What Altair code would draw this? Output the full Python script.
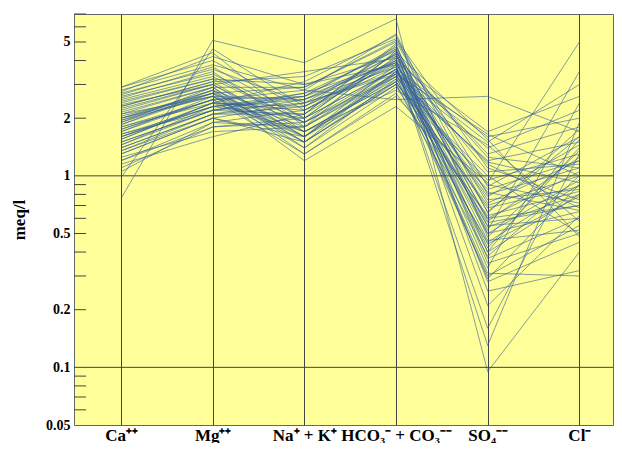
import altair as alt
import pandas as pd
import json

ions = ["Ca⁺⁺", "Mg⁺⁺", "Na⁺ + K⁺", "HCO₃⁻ + CO₃⁻⁻", "SO₄⁻⁻", "Cl⁻"]

ca = [1.8, 2.2, 1.5, 2.6, 1.3, 2.0, 1.7, 2.9, 1.1, 1.9, 2.4, 1.6, 2.1, 1.4, 2.7, 1.2, 1.85, 2.3, 1.55, 2.05,
      0.76, 1.65, 2.5, 1.35, 1.95, 2.8, 1.45, 2.15, 1.25, 1.75, 0.98, 2.35, 1.6, 2.0, 1.4, 2.55, 1.7, 1.15, 2.25, 1.9,
      1.5, 2.65, 1.3, 2.1, 1.8, 1.05, 2.45, 1.65, 1.95, 1.35, 2.75, 1.55, 2.0, 1.2, 2.3, 1.75, 1.45, 2.9, 1.85, 1.6]
mg = [2.4, 3.0, 2.2, 3.4, 2.0, 2.7, 2.5, 4.0, 1.8, 2.9, 3.2, 2.3, 2.6, 2.1, 3.6, 1.9, 2.8, 3.1, 2.4, 2.7,
      5.1, 2.2, 3.3, 2.0, 2.6, 3.8, 2.3, 2.9, 1.7, 2.5, 4.6, 3.0, 2.4, 2.8, 2.1, 3.5, 2.6, 1.6, 3.0, 2.7,
      2.2, 3.7, 2.0, 2.9, 2.5, 1.9, 3.2, 2.3, 2.8, 2.1, 4.2, 2.4, 2.6, 1.8, 3.1, 2.5, 2.2, 4.4, 2.7, 2.3]
nak = [2.3, 1.7, 2.6, 2.0, 1.5, 2.9, 1.6, 2.2, 2.0, 1.4, 3.0, 2.5, 1.5, 2.1, 2.4, 1.8, 1.3, 3.3, 2.2, 1.6,
       3.9, 2.7, 1.9, 2.4, 1.7, 2.8, 2.0, 1.5, 1.8, 2.6, 2.3, 1.6, 3.1, 1.9, 2.5, 1.7, 1.4, 2.1, 3.5, 1.8,
       2.4, 2.0, 1.6, 2.9, 1.3, 2.2, 1.9, 2.6, 1.5, 2.3, 3.0, 1.7, 2.5, 1.9, 1.6, 2.8, 2.1, 1.8, 1.2, 2.7]
hco3 = [4.0, 3.2, 4.6, 3.6, 3.0, 5.0, 3.4, 3.9, 4.4, 2.9, 4.2, 3.7, 3.1, 4.8, 3.5, 3.3, 2.6, 5.2, 4.1, 3.8,
        6.6, 3.9, 3.4, 4.3, 3.1, 2.5, 3.6, 3.0, 4.5, 4.7, 3.8, 3.5, 5.4, 3.3, 4.0, 2.8, 3.2, 4.9, 4.1, 3.6,
        3.4, 4.4, 3.0, 5.1, 2.7, 3.7, 4.2, 3.9, 3.5, 4.6, 3.8, 3.1, 4.3, 3.6, 3.3, 5.5, 4.0, 3.4, 2.3, 4.5]
so4 = [0.6, 1.2, 0.35, 1.6, 0.45, 0.8, 0.55, 1.7, 0.28, 0.95, 1.3, 0.4, 0.7, 0.5, 1.5, 0.3, 0.85, 1.1, 0.65, 0.75,
       0.095, 0.42, 1.4, 0.37, 0.6, 2.6, 0.5, 1.0, 0.21, 0.58, 0.13, 1.15, 0.48, 0.9, 0.33, 1.45, 0.68, 0.25, 1.05, 0.78,
       0.44, 1.55, 0.38, 0.88, 0.62, 0.29, 1.25, 0.52, 0.82, 0.4, 0.16, 0.57, 0.72, 0.31, 1.18, 0.64, 0.46, 1.65, 0.92, 0.54]
cl = [0.7, 1.5, 0.5, 2.0, 0.9, 1.1, 0.6, 2.6, 0.45, 1.3, 1.8, 0.8, 1.0, 0.65, 3.0, 0.55, 1.2, 0.75, 1.6, 0.85,
      0.4, 1.4, 2.2, 0.6, 1.05, 1.7, 0.95, 0.5, 0.62, 1.25, 1.9, 0.68, 1.35, 0.72, 2.4, 0.58, 0.88, 0.32, 1.15, 1.45,
      0.78, 0.48, 1.0, 1.6, 0.83, 0.9, 1.1, 3.5, 0.66, 1.55, 1.3, 0.7, 1.2, 0.3, 0.92, 1.75, 0.52, 1.0, 5.0, 0.8]

label_values = [0.05, 0.1, 0.2, 0.5, 1, 2, 5]
tick_values = [0.06, 0.07, 0.08, 0.09, 0.2, 0.3, 0.4, 0.5, 0.6, 0.7, 0.8, 0.9, 2, 3, 4, 5, 6, 7]
grid_values = [0.1, 1]

series = [ca, mg, nak, hco3, so4, cl]
rows = []
for i in range(len(ca)):
    for p, s in enumerate(series):
        rows.append({"sample": i, "pos": p, "meq": s[i]})
df = pd.DataFrame(rows)

yscale = alt.Scale(type="log", domain=[0.05, 7], nice=False)
xscale = alt.Scale(domain=[-0.513, 5.367], nice=False, zero=False)

yaxis = alt.Axis(values=label_values, format="~g", grid=False, ticks=False, domain=False,
                 title="meq/l", titleFont="Liberation Serif", titleFontSize=17,
                 titleFontWeight="bold", titleColor="black", titlePadding=17,
                 labelFont="Liberation Serif", labelFontSize=14, labelFontWeight="bold",
                 labelColor="black", labelPadding=4)

xaxis = alt.Axis(title=None, values=list(range(len(ions))), grid=True, gridColor="#444", gridOpacity=1,
                 ticks=False, domain=False, labelAngle=0, labelFont="Liberation Serif", labelFontSize=17,
                 labelFontWeight="bold", labelColor="black", labelPadding=2, labelFlush=False,
                 labelExpr=json.dumps(ions) + "[datum.value]")

lines = alt.Chart(df).mark_line(color="#2f5d99", opacity=0.6, strokeWidth=1).encode(
    x=alt.X("pos:Q", scale=xscale, axis=xaxis),
    y=alt.Y("meq:Q", scale=yscale, axis=yaxis),
    detail="sample:N",
    order=alt.Order("pos:Q"),
)

hgrid = alt.Chart(pd.DataFrame({"meq": grid_values})).mark_rule(color="#444", strokeWidth=1).encode(
    y=alt.Y("meq:Q", scale=yscale, axis=yaxis)
)

ticks = alt.Chart(pd.DataFrame({"meq": tick_values})).mark_rule(color="#444", strokeWidth=1).encode(
    y=alt.Y("meq:Q", scale=yscale, axis=yaxis),
    x=alt.value(0),
    x2=alt.value(12),
)

chart = alt.layer(lines, hgrid, ticks).properties(
    width=539, height=411,
    padding={"left": 2, "top": 5, "right": 0, "bottom": 0},
).configure_view(fill="#FFFF99", stroke="#666", strokeWidth=1)

chart.save("out.html", embed_options={"renderer": "svg", "actions": False})
